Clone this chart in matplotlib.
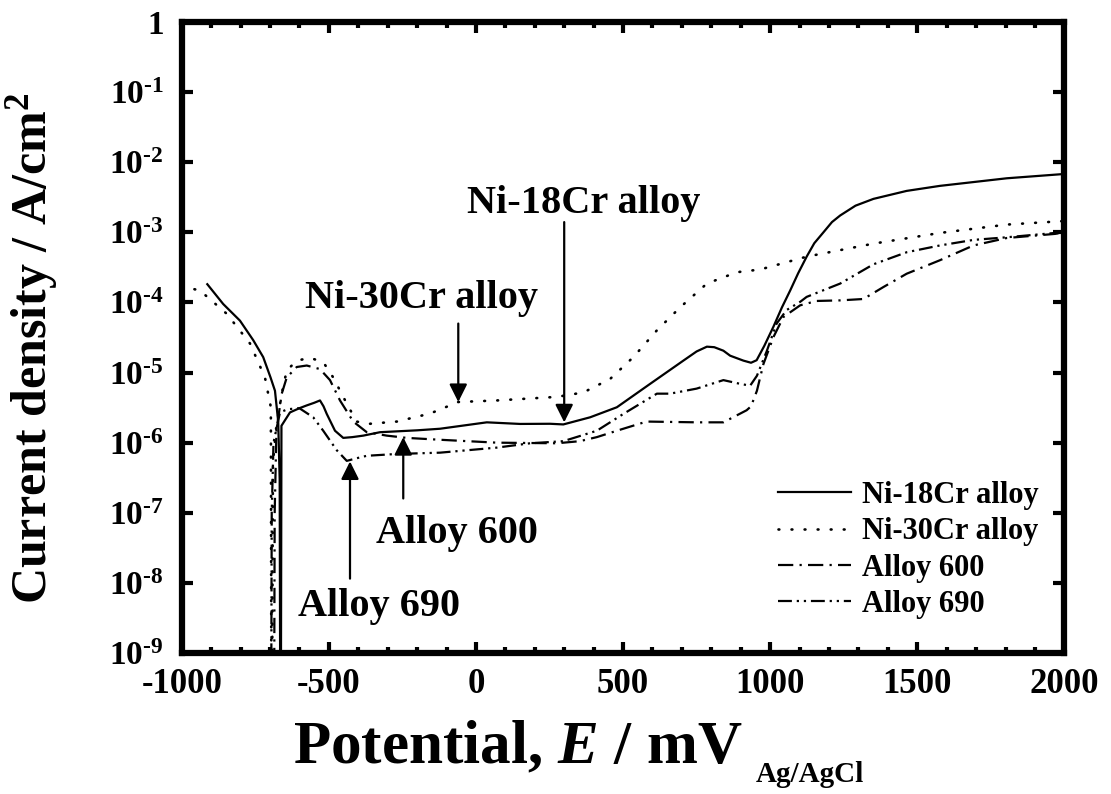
import matplotlib
matplotlib.use("Agg")
import matplotlib.pyplot as plt
from matplotlib.ticker import FixedLocator, MultipleLocator, FixedFormatter

# ---------------- data (potential in mV vs Ag/AgCl, current density in A/cm^2) ----------------
ni18_E = [-913, -859, -802, -757, -723, -698, -683, -672, -667, -665, -663, -661,
          -632, -600, -575, -550, -530, -518, -507, -479, -451, -420, -383, -326, -200, -122, 37, 150,
          252, 297, 388, 479, 592, 705, 750, 785, 810, 841, 864, 909, 935, 954, 980, 1011, 1040, 1068,
          1095, 1124, 1150, 1181, 1210, 1238, 1290, 1351, 1464, 1577, 1804, 2000]
ni18_i = [1.82e-4, 9.5e-5, 5.5e-5, 2.9e-5, 1.66e-5, 8.5e-6, 5.5e-6, 2.0e-6, 3e-7, 1e-10, 1e-10, 1.74e-6,
          2.7e-6, 3.1e-6, 3.4e-6, 3.7e-6, 4.0e-6, 3.3e-6, 2.57e-6, 1.48e-6, 1.17e-6, 1.2e-6, 1.26e-6, 1.41e-6, 1.5e-6, 1.58e-6, 1.95e-6, 1.85e-6,
          1.86e-6, 1.82e-6, 2.3e-6, 3.2e-6, 6.9e-6, 1.48e-5, 2.0e-5, 2.34e-5, 2.3e-5, 2.05e-5, 1.74e-5, 1.48e-5, 1.38e-5, 1.5e-5, 2.4e-5, 4.5e-5, 8.5e-5, 1.48e-4,
          2.6e-4, 4.5e-4, 7.0e-4, 1.0e-3, 1.4e-3, 1.74e-3, 2.4e-3, 3.0e-3, 3.9e-3, 4.6e-3, 5.9e-3, 6.8e-3]

ni30_E = [-1000, -938, -847, -768, -717, -697, -695, -693, -690, -680, -660, -643,
          -609, -564, -519, -485, -451, -406, -360, -269, -156, -60, 71, 275, 365,
          456, 535, 615, 694, 785, 887, 966, 1124, 1351, 1577, 1804, 2000]
ni30_i = [1.7e-4, 1.48e-4, 6.9e-5, 2.6e-5, 8.5e-6, 3.2e-6, 1e-10, 1e-10, 5e-7, 1.5e-6, 5.0e-6, 1.07e-5,
          1.48e-5, 1.62e-5, 1.41e-5, 8.5e-6, 4.5e-6, 2.0e-6, 1.86e-6, 2.0e-6, 2.6e-6, 3.8e-6, 4.0e-6, 4.5e-6, 5.2e-6,
          8.1e-6, 1.66e-5, 4.0e-5, 8.5e-5, 1.86e-4, 2.7e-4, 2.95e-4, 4.5e-4, 6.9e-4, 9.8e-4, 1.29e-3, 1.45e-3]

a600_E = [-686, -684, -678, -660, -643, -609, -575, -530, -496, -462, -417, -371,
          -303, -235, -122, 71, 275, 353, 411, 479, 580, 750, 841, 920, 935, 955,
          977, 1011, 1045, 1102, 1158, 1238, 1317, 1385, 1464, 1577, 1691, 1804, 1968, 2000]
a600_i = [1e-10, 1e-7, 1.5e-6, 5.0e-6, 8.5e-6, 1.2e-5, 1.26e-5, 1.12e-5, 7.8e-6, 4.0e-6, 2.0e-6, 1.41e-6,
          1.26e-6, 1.17e-6, 1.1e-6, 1.0e-6, 9.8e-7, 1.05e-6, 1.2e-6, 1.48e-6, 2.0e-6, 1.95e-6, 1.95e-6, 2.9e-6, 3.3e-6, 5.5e-6,
          1.32e-5, 3.2e-5, 6.2e-5, 9.1e-5, 1.05e-4, 1.07e-4, 1.12e-4, 1.66e-4, 2.57e-4, 4.0e-4, 6.5e-4, 8.3e-4, 9.5e-4, 1.0e-3]

a690_E = [-696, -694, -688, -666, -640, -600, -553, -519, -473, -439, -405, -371,
          -269, -122, 71, 184, 297, 411, 501, 615, 660, 750, 841, 898, 932, 955,
          988, 1022, 1056, 1102, 1124, 1238, 1351, 1464, 1577, 1691, 1804, 1968, 2000]
a690_i = [1e-10, 1e-7, 1.0e-6, 2.7e-6, 3.0e-6, 3.1e-6, 2.3e-6, 1.48e-6, 7.8e-7, 5.5e-7, 6.0e-7, 6.5e-7,
          6.9e-7, 7.2e-7, 8.5e-7, 9.8e-7, 1.05e-6, 1.48e-6, 2.57e-6, 5.0e-6, 5.0e-6, 5.9e-6, 7.8e-6, 6.9e-6, 6.5e-6, 9.0e-6,
          2.0e-5, 5.0e-5, 7.8e-5, 1.02e-4, 1.2e-4, 1.86e-4, 3.5e-4, 5.2e-4, 6.5e-4, 7.8e-4, 8.5e-4, 9.8e-4, 1.0e-3]

series_labels = ["Ni-18Cr alloy", "Ni-30Cr alloy", "Alloy 600", "Alloy 690"]

x_ticks = [-1000, -500, 0, 500, 1000, 1500, 2000]
y_ticks = [1e0, 1e-1, 1e-2, 1e-3, 1e-4, 1e-5, 1e-6, 1e-7, 1e-8, 1e-9]
y_ticklabels = ["1"] + ["10$^{\u2010%d}$" % k for k in range(1, 10)]

# ---------------- style ----------------
plt.rcParams.update({
    "font.family": ["Liberation Serif", "DejaVu Serif"],
    "font.weight": "bold",
    "mathtext.fontset": "custom",
    "mathtext.rm": "Liberation Serif:bold",
    "mathtext.bf": "Liberation Serif:bold",
    "mathtext.it": "Liberation Serif:italic:bold",
    "axes.unicode_minus": False,
    "lines.scale_dashes": False,
})

W, H = 1111, 794
fig = plt.figure(figsize=(W / 100, H / 100), dpi=100)
ax = fig.add_axes([181.7 / W, 1 - 653 / H, (1064.4 - 181.7) / W, (653 - 22) / H])

lw = 1.6
ax.plot(ni18_E, ni18_i, color="k", lw=lw, linestyle="-", label=series_labels[0])
ax.plot(ni30_E, ni30_i, color="k", lw=1.9, linestyle=(0, (0.6, 8.8)),
        dash_capstyle="round", label=series_labels[1])
ax.plot(a600_E, a600_i, color="k", lw=lw, linestyle=(0, (11, 4.5, 1.6, 4.5)),
        label=series_labels[2])
ax.plot(a690_E, a690_i, color="k", lw=lw, linestyle=(0, (10, 3.5, 1.6, 3.5, 1.6, 3.5)),
        label=series_labels[3])

ax.set_yscale("log")
ax.set_xlim(-1000, 2000)
ax.set_ylim(1e-9, 1)

ax.xaxis.set_major_locator(FixedLocator(x_ticks))
ax.xaxis.set_minor_locator(MultipleLocator(100))
ax.yaxis.set_major_locator(FixedLocator(y_ticks))
ax.yaxis.set_major_formatter(FixedFormatter(y_ticklabels))
ax.yaxis.set_minor_locator(FixedLocator([]))

for s in ax.spines.values():
    s.set_linewidth(4.5)

ax.tick_params(which="both", direction="in", top=True, right=True, width=3, color="k")
ax.tick_params(which="major", length=8)
ax.tick_params(which="minor", length=4)
ax.tick_params(axis="x", which="major", labelsize=25, pad=11)
ax.tick_params(axis="y", which="major", labelsize=24, pad=13)
for lab in ax.get_xticklabels() + ax.get_yticklabels():
    lab.set_fontweight("bold")

# ---------------- annotations ----------------
arrow_kw = dict(arrowstyle="-|>", color="k", lw=1.6, mutation_scale=27,
                shrinkA=0, shrinkB=0)
ax.annotate("", xy=(300, 1.95e-6), xytext=(300, 1.4e-3), arrowprops=arrow_kw)
ax.annotate("", xy=(-60, 3.8e-6), xytext=(-60, 5.0e-5), arrowprops=arrow_kw)
ax.annotate("", xy=(-247, 1.2e-6), xytext=(-247, 1.6e-7), arrowprops=arrow_kw)
ax.annotate("", xy=(-428, 5.4e-7), xytext=(-428, 1.15e-8), arrowprops=arrow_kw)

txt_kw = dict(fontsize=29, fontweight="bold", ha="center", va="baseline")
ax.text(367, 1.9e-3, "Ni-18Cr alloy", **txt_kw)
ax.text(-185, 8.2e-5, "Ni-30Cr alloy", **txt_kw)
ax.text(-64, 3.7e-8, "Alloy 600", **txt_kw)
ax.text(-331, 3.4e-9, "Alloy 690", **txt_kw)

leg = ax.legend(loc="upper left", bbox_to_anchor=(778 / W, 1 - 481 / H),
                bbox_transform=fig.transFigure, frameon=False, fontsize=22,
                handlelength=2.4, handletextpad=0.35, labelspacing=0.24,
                borderpad=0, borderaxespad=0)
for t in leg.get_texts():
    t.set_fontweight("bold")

# ---------------- axis titles ----------------
fig.text(32 / W, 1 - 348 / H, "Current density / A/cm$^{2}$", rotation=90,
         ha="center", va="center", fontsize=36, fontweight="bold")
xl = fig.text(293 / W, 1 - 763 / H, "Potential, $E$ / mV", ha="left", va="baseline",
              fontsize=44, fontweight="bold")
fig.canvas.draw()
bb = xl.get_window_extent()
fig.text((bb.x1 + 13) / W, 1 - 782 / H, "Ag/AgCl", ha="left", va="baseline",
         fontsize=21, fontweight="bold")

fig.savefig("out.png", dpi=100, facecolor="white")
